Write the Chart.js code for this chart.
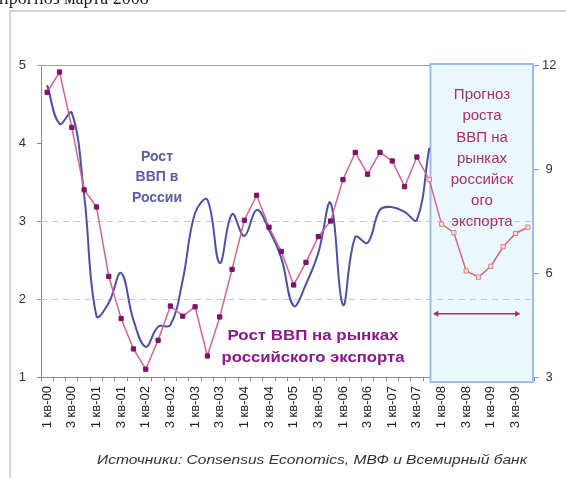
<!DOCTYPE html>
<html lang="ru">
<head>
<meta charset="utf-8">
<title>Рост ВВП</title>
<script src="https://cdn.jsdelivr.net/npm/chart.js@4"></script>
<style>
  html, body { margin: 0; padding: 0; background: #fff; overflow: hidden; }
  canvas { display: block; }
</style>
</head>
<body>
<canvas id="grafica" width="566" height="478"></canvas>
<script>
// quarters 2000-2009
const quarters = [
  '1 кв-00','2 кв-00','3 кв-00','4 кв-00','1 кв-01','2 кв-01','3 кв-01','4 кв-01',
  '1 кв-02','2 кв-02','3 кв-02','4 кв-02','1 кв-03','2 кв-03','3 кв-03','4 кв-03',
  '1 кв-04','2 кв-04','3 кв-04','4 кв-04','1 кв-05','2 кв-05','3 кв-05','4 кв-05',
  '1 кв-06','2 кв-06','3 кв-06','4 кв-06','1 кв-07','2 кв-07','3 кв-07','4 кв-07',
  '1 кв-08','2 кв-08','3 кв-08','4 кв-08','1 кв-09','2 кв-09','3 кв-09','4 кв-09'
];

// Рост ВВП в России, % (правая ось)
const russiaGdp = [
  11.42, 10.30, 10.62, 8.25, 4.76, 5.14, 6.00, 4.64,
  3.87, 4.45, 4.50, 5.80, 7.73, 8.11, 6.29, 7.70,
  7.07, 7.82, 7.24, 6.43, 5.05, 5.68, 6.58, 8.02,
  5.08, 7.04, 6.87, 7.82, 7.90, 7.76, 7.53, 9.61,
  null, null, null, null, null, null, null, null
];

// Рост ВВП на рынках российского экспорта, % (левая ось)
const exportGdp = [
  4.65, 4.91, 4.20, 3.40, 3.18, 2.29, 1.75, 1.36,
  1.10, 1.47, 1.91, 1.78, 1.90, 1.27, 1.77, 2.38,
  3.01, 3.33, 2.92, 2.61, 2.18, 2.47, 2.80, 3.00,
  3.53, 3.88, 3.60, 3.88, 3.77, 3.44, 3.82, 3.53,
  2.96, 2.85, 2.36, 2.28, 2.42, 2.67, 2.84, 2.92
];

const leftTicks = [1, 2, 3, 4, 5];
const rightTicks = [3, 6, 9, 12];
const dashedLevels = [2, 3];
const forecastStart = 31;

const PINK = '#d0668f';
const PURPLE = '#80106e';
const BLUE = '#4b52a3';

function fitText(c, str, cx, cy, w) {
  const m = c.measureText(str).width;
  c.save();
  c.translate(cx, cy);
  c.scale(w / m, 1);
  c.fillText(str, 0, 0);
  c.restore();
}

// forecast box, dashed grid and the texts
const decor = {
  id: 'decor',
  beforeDatasetsDraw(chart) {
    const c = chart.ctx;
    const a = chart.chartArea;
    const x = chart.scales.x, y = chart.scales.y;
    const bx = x.getPixelForValue(forecastStart + 0.1);
    c.save();
    c.fillStyle = '#eaf8fc';
    c.fillRect(bx, a.top - 1, a.right - bx, a.bottom + 5 - a.top + 1);
    c.strokeStyle = '#9cbcf0';
    c.lineWidth = 2;
    c.strokeRect(bx, a.top - 1, a.right - bx - 1, a.bottom + 5 - a.top + 1);

    c.strokeStyle = '#c8c8c8';
    c.lineWidth = 1;
    c.setLineDash([6, 5]);
    dashedLevels.forEach(v => {
      const py = Math.round(y.getPixelForValue(v)) + 0.5;
      c.beginPath(); c.moveTo(a.left, py); c.lineTo(a.right, py); c.stroke();
    });
    c.setLineDash([]);
    c.strokeStyle = '#a0a0a0';
    const top = Math.round(y.getPixelForValue(5)) + 0.5;
    c.beginPath(); c.moveTo(a.left - 4, top); c.lineTo(bx, top); c.stroke();
    c.restore();
  },
  afterDraw(chart) {
    const c = chart.ctx;
    const x = chart.scales.x, y = chart.scales.y;
    c.save();
    // frame of the page
    c.strokeStyle = '#d4d4d4';
    c.lineWidth = 2;
    c.beginPath(); c.moveTo(10, 478); c.lineTo(10, 11); c.lineTo(566, 11); c.stroke();

    c.fillStyle = '#222';
    c.font = '18px "Liberation Serif"';
    c.textAlign = 'left';
    c.textBaseline = 'alphabetic';
    c.fillText('прогноз марта 2008', -1, 4);

    c.textAlign = 'center';
    c.textBaseline = 'middle';

    c.fillStyle = '#5a5ea8';
    c.font = 'bold 14px "Liberation Sans"';
    c.fillText('Рост', 157, 157);
    c.fillText('ВВП в', 157, 177);
    c.fillText('России', 157, 198);

    c.fillStyle = '#8a1a8a';
    fitText(c, 'Рост ВВП на рынках', 313, 336, 171);
    fitText(c, 'российского экспорта', 313, 358, 183);

    c.fillStyle = '#a3306c';
    c.font = '15px "Liberation Sans"';
    const lines = ['Прогноз', 'роста', 'ВВП на', 'рынках', 'российск', 'ого', 'экспорта'];
    lines.forEach((t, i) => c.fillText(t, 482, 95 + i * 21.2));

    // arrow over the forecast period
    const x1 = x.getPixelForValue(31.4), x2 = x.getPixelForValue(38.3);
    const ay = y.getPixelForValue(1.81);
    c.strokeStyle = '#a3306c';
    c.fillStyle = '#a3306c';
    c.lineWidth = 1.5;
    c.beginPath(); c.moveTo(x1, ay); c.lineTo(x2, ay); c.stroke();
    c.beginPath(); c.moveTo(x1 - 1, ay); c.lineTo(x1 + 4, ay - 3); c.lineTo(x1 + 4, ay + 3); c.fill();
    c.beginPath(); c.moveTo(x2 + 1, ay); c.lineTo(x2 - 4, ay - 3); c.lineTo(x2 - 4, ay + 3); c.fill();

    c.fillStyle = '#333';
    c.font = 'italic 12px "Liberation Sans"';
    fitText(c, 'Источники: Consensus Economics, МВФ и Всемирный банк', 312, 461, 430);
    c.restore();
  }
};

document.addEventListener('DOMContentLoaded', () => {
  const ctx = document.getElementById('grafica').getContext('2d');

  const ptBg = exportGdp.map((v, i) => i >= forecastStart ? '#fbe2c4' : PURPLE);
  const ptBorder = exportGdp.map((v, i) => i >= forecastStart ? '#d8808e' : PURPLE);

  new Chart(ctx, {
    type: 'line',
    data: {
      labels: quarters,
      datasets: [{
        label: 'Рост ВВП на рынках российского экспорта',
        data: exportGdp,
        yAxisID: 'y',
        borderColor: PINK,
        borderWidth: 1.5,
        tension: 0,
        pointStyle: 'rect',
        pointRadius: 3,
        pointBackgroundColor: ptBg,
        pointBorderColor: ptBorder,
        pointBorderWidth: 1
      }, {
        label: 'Рост ВВП в России',
        data: russiaGdp,
        yAxisID: 'y1',
        borderColor: BLUE,
        borderWidth: 2,
        tension: 0.4,
        pointRadius: 0
      }]
    },
    options: {
      responsive: false,
      animation: false,
      devicePixelRatio: 1,
      layout: { padding: { top: 65, left: 0, right: 0, bottom: 0 } },
      plugins: { legend: { display: false }, tooltip: { enabled: false } },
      scales: {
        x: {
          type: 'category',
          offset: true,
          afterFit: s => { s.height = 101; },
          grid: { drawOnChartArea: false, offset: true, tickLength: 4, color: '#8a8a8a' },
          border: { color: '#8a8a8a' },
          ticks: {
            autoSkip: false,
            minRotation: 90,
            maxRotation: 90,
            padding: 5,
            color: '#222',
            font: { family: 'Liberation Sans', size: 13 },
            callback: (v, i) => (i % 2 === 0 ? quarters[i] : '')
          }
        },
        y: {
          position: 'left',
          min: 1,
          max: 5,
          afterFit: s => { s.width = 41; },
          afterBuildTicks: s => { s.ticks = leftTicks.map(v => ({ value: v })); },
          grid: { drawOnChartArea: false, tickLength: 4, color: '#8a8a8a' },
          border: { color: '#8a8a8a' },
          ticks: { padding: 11, color: '#333', font: { family: 'Liberation Sans', size: 13 } }
        },
        y1: {
          position: 'right',
          min: 3,
          max: 12,
          afterFit: s => { s.width = 32; },
          afterBuildTicks: s => { s.ticks = rightTicks.map(v => ({ value: v })); },
          grid: { drawOnChartArea: false, tickLength: 5, color: '#9a9a9a' },
          border: { display: false },
          ticks: { padding: 3, crossAlign: 'center', color: '#333', font: { family: 'Liberation Sans', size: 13 } }
        }
      }
    },
    plugins: [decor]
  });
});
</script>
</body>
</html>
